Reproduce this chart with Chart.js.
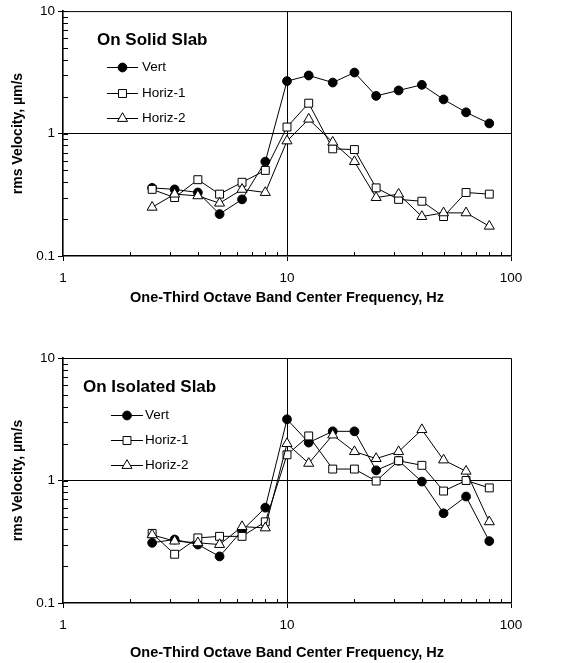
<!DOCTYPE html>
<html>
<head>
<meta charset="utf-8">
<script src="https://cdn.jsdelivr.net/npm/chart.js@4/dist/chart.umd.min.js"></script>
<style>
  html, body { margin: 0; padding: 0; background: #fff; }
  #wrap { position: relative; width: 572px; height: 663px; }
  canvas { position: absolute; left: 0; }
  #c1 { top: 0; }
  #c2 { top: 310px; }
</style>
</head>
<body>
<div id="wrap">
  <canvas id="c1" width="572" height="310"></canvas>
  <canvas id="c2" width="572" height="353"></canvas>
</div>
<script>
// ---- data ----
const freqs = [2.5, 3.15, 4, 5, 6.3, 8, 10, 12.5, 16, 20, 25, 31.5, 40, 50, 63, 80];
const seriesNames = ['Vert', 'Horiz-1', 'Horiz-2'];

const solidVert = [0.36, 0.35, 0.33, 0.22, 0.29, 0.59, 2.68, 2.98, 2.61, 3.15, 2.03, 2.25, 2.50, 1.90, 1.49, 1.21];
const solidH1   = [0.35, 0.30, 0.42, 0.32, 0.40, 0.50, 1.13, 1.77, 0.75, 0.74, 0.36, 0.29, 0.28, 0.21, 0.33, 0.32];
const solidH2   = [0.25, 0.32, 0.31, 0.27, 0.35, 0.33, 0.87, 1.31, 0.85, 0.59, 0.30, 0.32, 0.21, 0.225, 0.225, 0.175];

const isoVert = [0.31, 0.33, 0.30, 0.24, 0.39, 0.60, 3.16, 2.04, 2.52, 2.52, 1.21, 1.45, 0.98, 0.54, 0.74, 0.32];
const isoH1   = [0.37, 0.25, 0.34, 0.35, 0.35, 0.46, 1.62, 2.31, 1.24, 1.24, 0.99, 1.45, 1.33, 0.82, 1.00, 0.87];
const isoH2   = [0.36, 0.32, 0.31, 0.30, 0.42, 0.41, 2.0, 1.38, 2.35, 1.72, 1.51, 1.72, 2.6, 1.47, 1.19, 0.46];

const xTickValues = [1, 10, 100];
const yTickValues = [0.1, 1, 10];
const xTitle = 'One-Third Octave Band Center Frequency, Hz';
const yTitle = 'rms Velocity, \u00b5m/s';

// ---- styles ----
const styles = [
  { pointStyle: 'circle',   radius: 4.4, bg: '#000', order: 2 },
  { pointStyle: 'rect',     radius: 5.6, bg: '#fff', order: 1 },
  { pointStyle: 'triangle', radius: 5.8, bg: '#fff', order: 0 }
];
const FONT = '"Liberation Sans", Arial, Helvetica, sans-serif';

function makeDatasets(arrs) {
  return arrs.map((vals, i) => ({
    label: seriesNames[i],
    data: freqs.map((f, j) => ({ x: f, y: vals[j] })),
    borderColor: '#000',
    borderWidth: 1,
    backgroundColor: styles[i].bg,
    pointStyle: styles[i].pointStyle,
    pointRadius: styles[i].radius,
    pointBackgroundColor: styles[i].bg,
    pointBorderColor: '#000',
    pointBorderWidth: 1,
    order: styles[i].order,
    tension: 0,
    fill: false
  }));
}

function drawMarker(ctx, st, x, y) {
  ctx.save();
  ctx.fillStyle = st.bg;
  ctx.strokeStyle = '#000';
  ctx.lineWidth = 1;
  if (Chart.helpers && Chart.helpers.drawPoint) {
    Chart.helpers.drawPoint(ctx, { pointStyle: st.pointStyle, radius: st.radius, rotation: 0, borderWidth: 1 }, x, y);
  } else {
    ctx.beginPath();
    ctx.arc(x, y, st.radius, 0, Math.PI * 2);
    ctx.fill(); ctx.stroke();
  }
  ctx.restore();
}

// plugin: frame, minor ticks, inner legend
const decorPlugin = {
  id: 'decor',
  beforeDatasetsDraw(chart, args, opts) {
    const ctx = chart.ctx;
    const a = chart.chartArea;
    const xs = chart.scales.x, ys = chart.scales.y;
    ctx.save();
    ctx.strokeStyle = '#000';
    ctx.lineWidth = 1;
    // top and right frame
    ctx.beginPath();
    ctx.moveTo(a.left, a.top + 0.5);
    ctx.lineTo(a.right + 0.5, a.top + 0.5);
    ctx.lineTo(a.right + 0.5, a.bottom);
    ctx.stroke();
    // minor ticks (inside)
    ctx.beginPath();
    [1, 10].forEach(d => {
      for (let k = 2; k <= 10; k++) {
        const px = Math.round(xs.getPixelForValue(k * d)) + 0.5;
        ctx.moveTo(px, a.bottom);
        ctx.lineTo(px, a.bottom - 4);
      }
    });
    [0.1, 1].forEach(d => {
      for (let k = 2; k <= 10; k++) {
        const py = Math.round(ys.getPixelForValue(k * d)) + 0.5;
        ctx.moveTo(a.left, py);
        ctx.lineTo(a.left + 5, py);
      }
    });
    ctx.stroke();
    ctx.restore();
  },
  afterDraw(chart, args, opts) {
    const ctx = chart.ctx;
    const a = chart.chartArea;
    ctx.save();
    ctx.fillStyle = '#000';
    ctx.textBaseline = 'middle';
    ctx.textAlign = 'left';
    ctx.font = 'bold 17px ' + FONT;
    ctx.fillText(opts.title, a.left + opts.titleDx, a.top + opts.titleDy);
    ctx.font = '13.5px ' + FONT;
    for (let i = 0; i < 3; i++) {
      const y = a.top + opts.rowDy[i];
      const x0 = a.left + opts.lineDx0, x1 = a.left + opts.lineDx1;
      ctx.strokeStyle = '#000';
      ctx.lineWidth = 1;
      ctx.beginPath();
      ctx.moveTo(x0, Math.round(y) + 0.5);
      ctx.lineTo(x1, Math.round(y) + 0.5);
      ctx.stroke();
      drawMarker(ctx, styles[i], (x0 + x1) / 2, Math.round(y) + 0.5);
      ctx.fillStyle = '#000';
      ctx.fillText(seriesNames[i], a.left + opts.textDx, y + 0.5);
    }
    ctx.restore();
  }
};

function makeChart(id, arrs, legendOpts, pad, xHeight, xTitlePadBottom) {
  return new Chart(document.getElementById(id), {
    type: 'line',
    data: { datasets: makeDatasets(arrs) },
    plugins: [decorPlugin],
    options: {
      responsive: false,
      animation: false,
      devicePixelRatio: 1,
      layout: { padding: pad },
      plugins: {
        legend: { display: false },
        tooltip: { enabled: false },
        decor: legendOpts
      },
      scales: {
        x: {
          type: 'logarithmic',
          min: 1, max: 100,
          afterBuildTicks: s => { s.ticks = xTickValues.map(v => ({ value: v })); },
          afterFit: s => { s.height = xHeight; },
          ticks: {
            color: '#000',
            font: { family: FONT, size: 13.5 },
            padding: 9,
            maxRotation: 0,
            autoSkip: false,
            callback: v => String(v)
          },
          grid: {
            color: c => (c.tick && c.tick.value === 10) ? '#000' : 'rgba(0,0,0,0)',
            tickColor: '#000',
            tickLength: 5,
            lineWidth: 1
          },
          border: { display: true, color: '#000', width: 1.6 },
          title: {
            display: true, text: xTitle, color: '#000',
            font: { family: FONT, size: 14.5, weight: 'bold' },
            padding: { top: 0, bottom: xTitlePadBottom }
          }
        },
        y: {
          type: 'logarithmic',
          min: 0.1, max: 10,
          afterBuildTicks: s => { s.ticks = yTickValues.map(v => ({ value: v })); },
          afterFit: s => { s.width = 63; },
          ticks: {
            color: '#000',
            font: { family: FONT, size: 13.5 },
            padding: 3,
            autoSkip: false,
            callback: v => String(v)
          },
          grid: {
            color: c => (c.tick && c.tick.value === 1) ? '#000' : 'rgba(0,0,0,0)',
            tickColor: '#000',
            tickLength: 5,
            lineWidth: 1
          },
          border: { display: true, color: '#000', width: 1.6 },
          title: {
            display: true, text: yTitle, color: '#000',
            font: { family: FONT, size: 14, weight: 'bold' },
            padding: { top: 9.6, bottom: 0 }
          }
        }
      }
    }
  });
}

makeChart('c1', [solidVert, solidH1, solidH2],
  { title: 'On Solid Slab', titleDx: 34, titleDy: 29, lineDx0: 44, lineDx1: 75, textDx: 79, rowDy: [56, 82, 107] },
  { top: 11, right: 61, left: 0, bottom: 0 }, 54, 3.3);

makeChart('c2', [isoVert, isoH1, isoH2],
  { title: 'On Isolated Slab', titleDx: 20, titleDy: 29, lineDx0: 48, lineDx1: 80, textDx: 82, rowDy: [57, 82, 107] },
  { top: 48, right: 61, left: 0, bottom: 0 }, 60, 1.3);
</script>
</body>
</html>
